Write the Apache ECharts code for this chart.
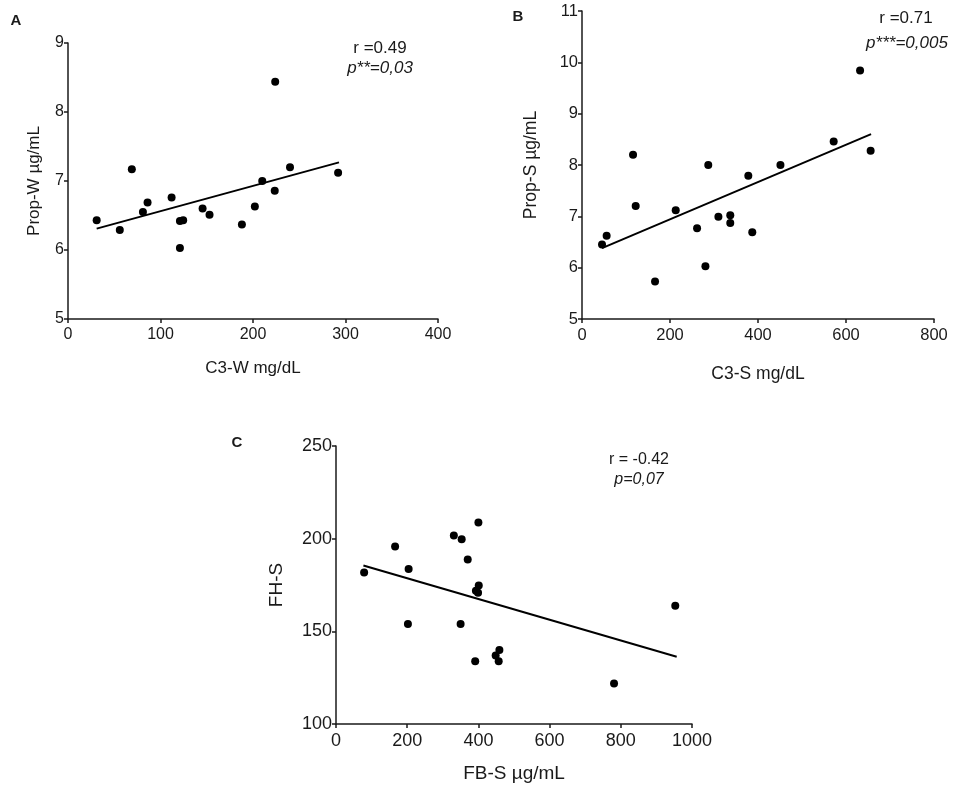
<!DOCTYPE html>
<html>
<head>
<meta charset="utf-8">
<script src="https://cdn.jsdelivr.net/npm/echarts@6/dist/echarts.min.js"></script>
<style>
  html, body { margin: 0; padding: 0; background: #fff; }
  #chart { width: 957px; height: 794px; }
</style>
</head>
<body>
<div id="chart"></div>
<script>
// Panel A: C3-W vs Prop-W
let pointsA = [
    [31, 6.43], [56, 6.29], [69, 7.17], [81, 6.55], [86, 6.69], [112, 6.76],
    [121, 6.42], [124.5, 6.43], [121, 6.03], [145.5, 6.60], [153, 6.51],
    [188, 6.37], [202, 6.63], [210, 7.00], [224, 8.44], [223.5, 6.86],
    [240, 7.20], [292, 7.12]
];
let fitA = [[31, 6.31], [293, 7.27]];

// Panel B: C3-S vs Prop-S
let pointsB = [
    [45.5, 6.45], [56, 6.62], [116, 8.20], [122, 7.20], [166, 5.73], [213, 7.12],
    [261.5, 6.77], [287, 8.00], [280.5, 6.03], [310, 6.99], [337, 7.02],
    [337, 6.87], [378, 7.79], [387, 6.69], [451, 8.00], [572, 8.46],
    [632, 9.84], [656, 8.28]
];
let fitB = [[45.5, 6.38], [657, 8.60]];

// Panel C: FB-S vs FH-S
let pointsC = [
    [79, 181.7], [166, 195.8], [204, 183.7], [202, 153.9], [331, 201.7],
    [353, 199.7], [350, 153.9], [370, 188.8], [400, 208.7], [401, 174.7],
    [393, 171.9], [399, 170.8], [391, 133.8], [448.5, 137], [459, 139.9],
    [457, 133.8], [781, 121.9], [953, 163.8]
];
let fitC = [[77, 185.5], [957, 136.3]];

let xNames = ["C3-W mg/dL", "C3-S mg/dL", "FB-S µg/mL"];
let yNames = ["Prop-W µg/mL", "Prop-S µg/mL", "FH-S"];
let xRanges = [[0, 400, 100], [0, 800, 200], [0, 1000, 200]];
let yRanges = [[5, 9, 1], [5, 11, 1], [100, 250, 50]];

let chartDom = document.getElementById("chart");
let chart = echarts.init(chartDom);

const FONT = "Liberation Sans, Arial, sans-serif";
const INK = "#1a1a1a";

let grids = [
    { left: 68, top: 43, width: 370, height: 276 },
    { left: 582, top: 11, width: 352, height: 308 },
    { left: 336, top: 446, width: 356, height: 278 }
];
let labelSizes = [16, 16.5, 18];
let xGaps = [41, 46, 40];
let yGaps = [25, 42, 50];

function axisBase(i) {
    return {
        gridIndex: i,
        type: "value",
        splitLine: { show: false },
        axisLine: { show: true, onZero: false, lineStyle: { color: INK, width: 1.5 } },
        axisTick: { show: true, length: 4, lineStyle: { color: INK, width: 1.5 } },
        axisLabel: {
            color: INK, fontSize: labelSizes[i], fontFamily: FONT,
            formatter: v => String(v)
        },
        nameLocation: "middle",
        nameTextStyle: { color: INK, fontSize: labelSizes[i] + 1, fontFamily: FONT }
    };
}

let xAxes = xNames.map((n, i) => Object.assign(axisBase(i), {
    name: n, nameGap: xGaps[i],
    min: xRanges[i][0], max: xRanges[i][1], interval: xRanges[i][2],
    axisLabel: Object.assign(axisBase(i).axisLabel, { margin: 8 })
}));
let yAxes = yNames.map((n, i) => Object.assign(axisBase(i), {
    name: n, nameGap: yGaps[i],
    min: yRanges[i][0], max: yRanges[i][1], interval: yRanges[i][2],
    axisLabel: Object.assign(axisBase(i).axisLabel, { margin: 4 })
}));

let allPoints = [pointsA, pointsB, pointsC];
let allFits = [fitA, fitB, fitC];
let series = [];
allPoints.forEach((pts, i) => {
    series.push({
        type: "scatter", xAxisIndex: i, yAxisIndex: i, data: pts,
        symbolSize: 8, itemStyle: { color: "#000", opacity: 1 }, z: 3
    });
    series.push({
        type: "line", xAxisIndex: i, yAxisIndex: i, data: allFits[i],
        showSymbol: false, lineStyle: { color: "#000", width: 2 }, z: 2
    });
});

function txt(x, y, text, size, opts) {
    return {
        type: "text", x: x, y: y,
        style: Object.assign({
            text: text, fill: INK, fontSize: size, fontFamily: FONT,
            align: "center", verticalAlign: "middle"
        }, opts || {})
    };
}

let graphics = [
    txt(16, 21, "A", 15, { fontWeight: "bold" }),
    txt(518, 17, "B", 15, { fontWeight: "bold" }),
    txt(237, 443, "C", 15, { fontWeight: "bold" }),
    txt(380, 48, "r =0.49", 17),
    txt(380, 68, "p**=0,03", 17, { fontStyle: "italic" }),
    txt(906, 18, "r =0.71", 17),
    txt(907, 43, "p***=0,005", 17, { fontStyle: "italic" }),
    txt(639, 460, "r = -0.42", 16),
    txt(639, 480, "p=0,07", 16, { fontStyle: "italic" })
];

chart.setOption({
    animation: false,
    backgroundColor: "#fff",
    grid: grids,
    xAxis: xAxes,
    yAxis: yAxes,
    series: series,
    graphic: graphics
});

window.onresize = function() {
    chart.resize();
};
</script>
</body>
</html>
